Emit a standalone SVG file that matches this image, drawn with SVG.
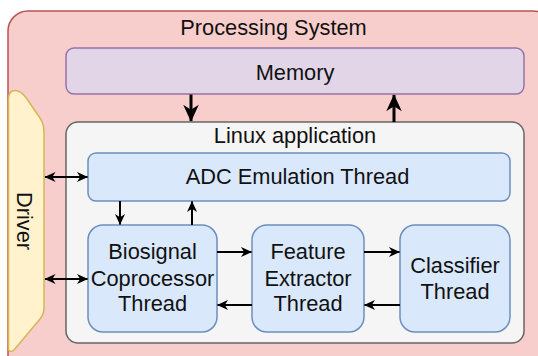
<svg xmlns="http://www.w3.org/2000/svg" width="538" height="356" viewBox="0 0 538 356">
<defs>
<style>
text{font-family:"Liberation Sans",Arial,sans-serif;font-size:21.8px;fill:#111;text-anchor:middle}
.thread{fill:#dae8fc;stroke:#6c8ebf;stroke-width:1.5}
.conn{stroke:#000;fill:none}
.thin{stroke-width:2;marker-end:url(#ah)}
.thick{stroke-width:3;marker-end:url(#AH)}
.dbl{stroke-width:2;marker-end:url(#ah);marker-start:url(#ah)}
</style>
<marker id="ah" viewBox="0 0 12 12" markerUnits="userSpaceOnUse" markerWidth="12" markerHeight="11" refX="11.5" refY="6" orient="auto-start-reverse">
<path d="M0,0.5 L12,6 L0,11.5 L3.5,6 z" fill="#000"/>
</marker>
<marker id="AH" viewBox="0 0 12 12" markerUnits="userSpaceOnUse" markerWidth="18" markerHeight="17" refX="11.5" refY="6" orient="auto-start-reverse">
<path d="M0,0.5 L12,6 L0,11.5 L3.5,6 z" fill="#000"/>
</marker>
</defs>
<g id="processing-system">
<rect x="8" y="11" width="545" height="365" rx="20" fill="#f8cecc" stroke="#b85450" stroke-width="1.5"/>
<text x="273.5" y="35">Processing System</text>
</g>
<g id="driver">
<path d="M8.5,350 L8.5,99 Q8.5,90.5 15,90.5 Q21,90.5 27,99 L40,118 Q44,124 44,132 L44,308 Q44,314 40,319 L14,350 Q11,353 8.5,350 Z" fill="#fff2cc" stroke="#d6b656" stroke-width="1.5"/>
<text transform="translate(17,221) rotate(90)">Driver</text>
</g>
<g id="memory">
<rect x="66" y="48" width="458" height="46" rx="8" fill="#e1d5e7" stroke="#9673a6" stroke-width="1.5"/>
<text x="295" y="80">Memory</text>
</g>
<g id="linux-application">
<rect x="66" y="122" width="458" height="221" rx="12" fill="#f5f5f5" stroke="#666666" stroke-width="1.5"/>
<text x="295" y="143">Linux application</text>
</g>
<g id="adc-emulation-thread">
<rect class="thread" x="88" y="153" width="422" height="48" rx="8"/>
<text x="297.5" y="184">ADC Emulation Thread</text>
</g>
<g id="biosignal-coprocessor-thread">
<rect class="thread" x="88" y="225" width="129" height="107" rx="15"/>
<text x="152.5" y="259">Biosignal</text>
<text x="152.5" y="285.5">Coprocessor</text>
<text x="152.5" y="311">Thread</text>
</g>
<g id="feature-extractor-thread">
<rect class="thread" x="252" y="225" width="112" height="107" rx="15"/>
<text x="308" y="259">Feature</text>
<text x="308" y="285.5">Extractor</text>
<text x="308" y="311">Thread</text>
</g>
<g id="classifier-thread">
<rect class="thread" x="400" y="225" width="110" height="107" rx="15"/>
<text x="455" y="272.5">Classifier</text>
<text x="455" y="298.5">Thread</text>
</g>
<g id="connectors">
<line class="conn thick" x1="191" y1="94.5" x2="191" y2="121"/>
<line class="conn thick" x1="394" y1="122" x2="394" y2="95"/>
<line class="conn thin" x1="120" y1="201" x2="120" y2="224.5"/>
<line class="conn thin" x1="192" y1="225" x2="192" y2="201.5"/>
<line class="conn dbl" x1="45" y1="177" x2="87.5" y2="177"/>
<line class="conn dbl" x1="45" y1="279" x2="87.5" y2="279"/>
<line class="conn thin" x1="217" y1="252" x2="251.5" y2="252"/>
<line class="conn thin" x1="252" y1="305" x2="217.5" y2="305"/>
<line class="conn thin" x1="364" y1="252" x2="399.5" y2="252"/>
<line class="conn thin" x1="400" y1="305" x2="364.5" y2="305"/>
</g>
</svg>
